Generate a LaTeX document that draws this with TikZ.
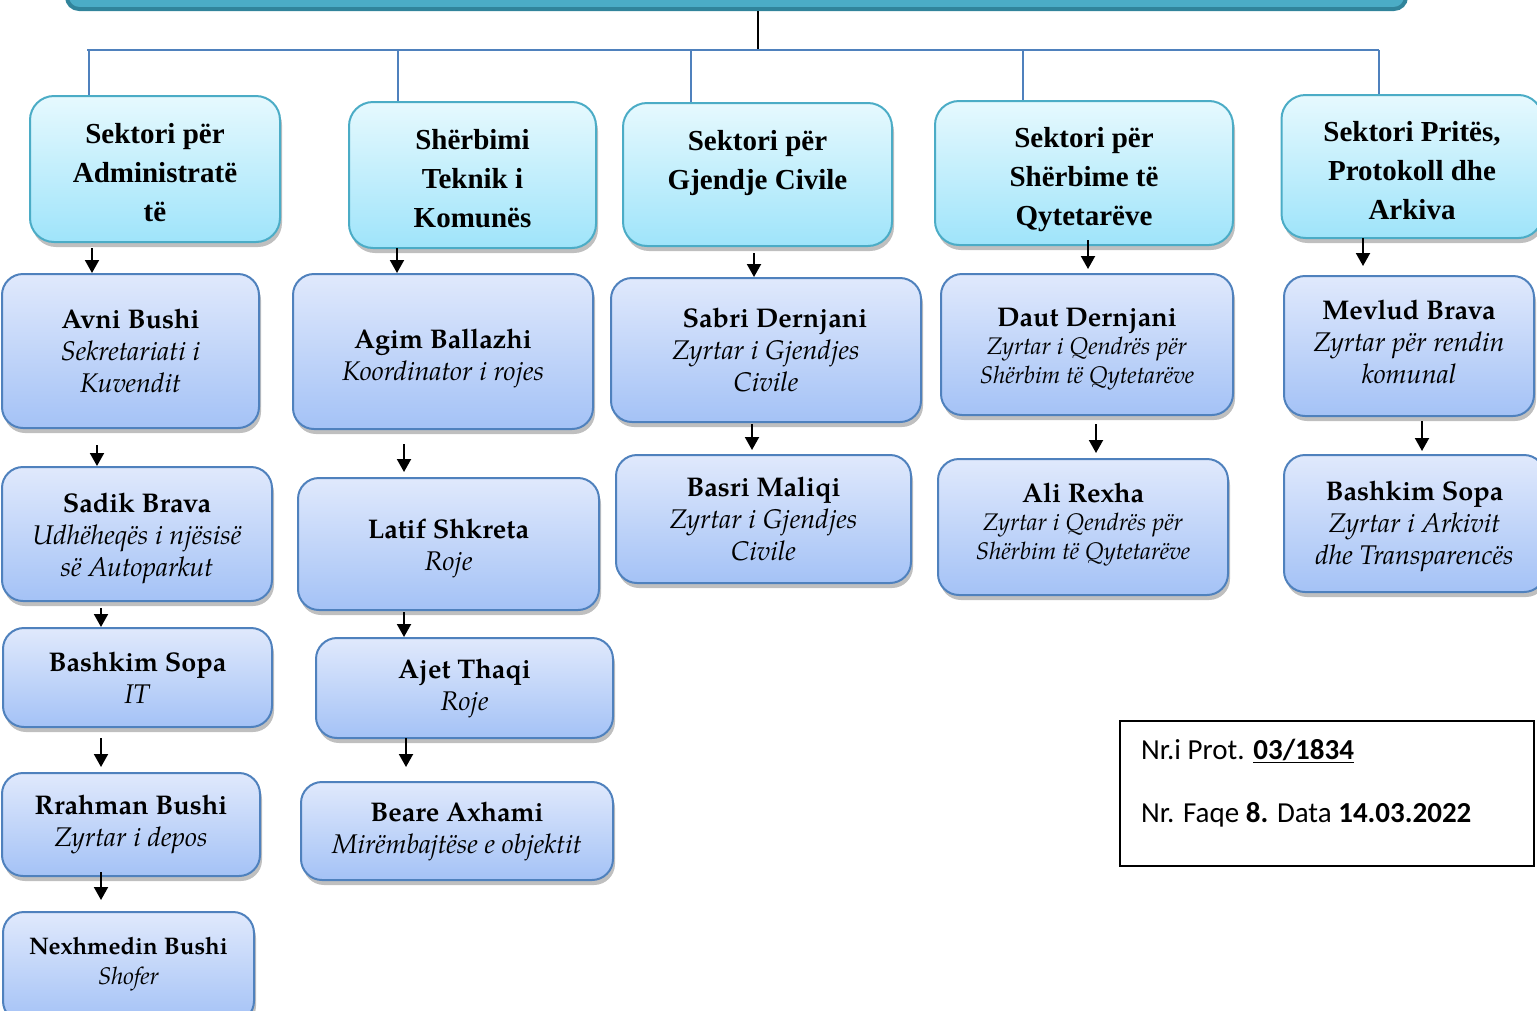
\documentclass[tikz,border=0pt]{standalone}
\usepackage{fontspec}
\setmainfont{Liberation Serif}
\newfontfamily\palfont{texgyrepagella}[Extension=.otf, UprightFont=*-regular, BoldFont=*-bold, ItalicFont=*-italic, BoldItalicFont=*-bolditalic]
\newfontfamily\calfont{Carlito}
\usetikzlibrary{arrows.meta,shadows,calc}
\definecolor{topfillA}{HTML}{E6F9FE}
\definecolor{topfillB}{HTML}{9FE4FA}
\definecolor{topdraw}{HTML}{4BACC6}
\definecolor{namefillA}{HTML}{E0E9FC}
\definecolor{namefillB}{HTML}{A4C2F6}
\definecolor{namedraw}{HTML}{4F81BD}
\definecolor{barfill}{HTML}{4BACC6}
\definecolor{bardraw}{HTML}{31849B}
\definecolor{linkblue}{HTML}{4F81BD}
\newcommand\upstrut[1]{\rule{0pt}{#1pt}}
\newcommand\dnstrut[1]{\rule[-#1pt]{0pt}{#1pt}}
\begin{document}
\begin{tikzpicture}[x=1pt,y=-1pt,
  shad/.style={drop shadow={shadow xshift=2pt,shadow yshift=-5pt,opacity=0.25,fill=black}},
  topbox/.style={shad,draw=topdraw,line width=2pt,rounded corners=24pt,top color=topfillA,bottom color=topfillB,align=center,inner sep=0pt,font=\bfseries\fontsize{29}{39}\selectfont},
  namebox/.style={shad,draw=namedraw,line width=2pt,rounded corners=21pt,top color=namefillA,bottom color=namefillB,align=center,inner sep=0pt,font=\palfont\fontsize{27}{32}\selectfont},
  smallbox/.style={namebox,font=\palfont\fontsize{24}{28.5}\selectfont},
  arr/.style={line width=2pt,black,-{Triangle[width=14pt,length=13pt]}},
  link/.style={line width=2pt,linkblue},
  trunk/.style={line width=2pt,black},
  notetext/.style={anchor=base west,inner sep=0pt,font=\calfont\fontsize{29}{34}\selectfont}
]
\useasboundingbox (0,0) rectangle (1537,1010);
\begin{scope}
\clip (0,0) rectangle (1537,1010);
% top bar
\draw[line width=4pt,draw=bardraw,fill=barfill,rounded corners=12pt] (67,-40) rectangle (1406,9);

% top level boxes
\node[topbox,minimum width=250pt,minimum height=146pt] (s1) at (155,169) {\upstrut{27}Sektori për\\Administratë\\të};
\node[topbox,minimum width=247pt,minimum height=146pt] (s2) at (472.5,175) {\upstrut{28}Shërbimi\\Teknik i\\Komunës};
\node[topbox,minimum width=269pt,minimum height=143pt] (s3) at (757.5,174.5) {\upstrut{30}Sektori për\\Gjendje Civile\\\mbox{}};
\node[topbox,minimum width=298pt,minimum height=144pt] (s4) at (1084,173) {\upstrut{33}Sektori për\\Shërbime të\\Qytetarëve};
\node[topbox,minimum width=261pt,minimum height=143pt] (s5) at (1412,166.5) {\upstrut{28}Sektori Pritës,\\Protokoll dhe\\Arkiva};

% column 1
\node[namebox,minimum width=257pt,minimum height=154pt] (n11) at (130.5,351) {\textbf{Avni Bushi}\\\textit{Sekretariati i}\\\textit{Kuvendit}};
\node[namebox,minimum width=270pt,minimum height=134pt] (n12) at (137,534) {\upstrut{29}\textbf{Sadik Brava}\\\textit{Udhëheqës i njësisë}\\\textit{së Autoparkut}};
\node[namebox,minimum width=269pt,minimum height=99pt] (n13) at (137.5,677.5) {\textbf{Bashkim Sopa}\\\textit{IT}};
\node[namebox,minimum width=258pt,minimum height=103pt] (n14) at (131,824.5) {\textbf{Rrahman Bushi}\\\textit{Zyrtar i depos}};
\node[namebox,minimum width=251pt,minimum height=110pt,font=\palfont\fontsize{24}{30}\selectfont] (n15) at (128.5,967) {\textbf{Nexhmedin Bushi}\\\textit{Shofer}\\[-18pt]\mbox{}};

% column 2
\node[namebox,minimum width=300pt,minimum height=155pt] (n21) at (443,351.5) {\upstrut{34}\textbf{Agim Ballazhi}\\\textit{Koordinator i rojes}};
\node[namebox,minimum width=301pt,minimum height=132pt] (n22) at (448.5,544) {\upstrut{29}\textbf{Latif Shkreta}\\\textit{Roje}};
\node[namebox,minimum width=297pt,minimum height=100pt] (n23) at (464.5,688) {\textbf{Ajet Thaqi}\\\textit{Roje}};
\node[namebox,minimum width=312pt,minimum height=98pt] (n24) at (457,831) {\textbf{Beare Axhami}\\\textit{Mirëmbajtëse e objektit}};

% column 3
\node[namebox,minimum width=310pt,minimum height=144pt] (n31) at (766,350) {\hspace*{18pt}\textbf{Sabri Dernjani}\\\textit{Zyrtar i Gjendjes}\\\textit{Civile}};
\node[namebox,minimum width=295pt,minimum height=128pt] (n32) at (763.5,519) {\textbf{Basri Maliqi}\\\textit{Zyrtar i Gjendjes}\\\textit{Civile}};

% column 4
\node[smallbox,minimum width=292pt,minimum height=141pt] (n41) at (1087,344.5) {{\fontsize{27}{32}\selectfont\upstrut{27}\textbf{Daut Dernjani}}\\\textit{Zyrtar i Qendrës për}\\\textit{Shërbim të Qytetarëve}};
\node[smallbox,minimum width=290pt,minimum height=136pt] (n42) at (1083,527) {{\fontsize{27}{32}\selectfont\textbf{Ali Rexha}}\\\textit{Zyrtar i Qendrës për}\\\textit{Shërbim të Qytetarëve}\dnstrut{12}};

% column 5
\node[namebox,minimum width=250pt,minimum height=140pt] (n51) at (1409,346) {\textbf{Mevlud Brava}\\\textit{Zyrtar për rendin}\\\textit{komunal}\dnstrut{8}};
\node[namebox,minimum width=261pt,minimum height=137pt] (n52) at (1414.5,523.5) {\upstrut{25}\textbf{Bashkim Sopa}\\\textit{Zyrtar i Arkivit}\\\textit{dhe Transparencës}};

% note box
\node[draw=black,line width=2pt,minimum width=414pt,minimum height=145pt,inner sep=0pt] (note) at (1327,793.5) {};
\node[notetext] (nt1) at (1141,759) {Nr.i Prot. \textbf{\underline{03/1834}}};
\node[notetext] (nt2) at (1141,822) {Nr. Faqe \textbf{8.} Data \textbf{14.03.2022}};

% top connectors
\coordinate (barb) at (758,11);
\coordinate (hl) at (87,50);
\coordinate (hr) at (1379,50);
\draw[trunk] (barb) -- (barb |- hl);
\draw[link] (hl) -- (hr);
\coordinate (h1) at (89,50);
\coordinate (h2) at (398,50);
\coordinate (h3) at (691,50);
\coordinate (h4) at (1023,50);
\coordinate (h5) at (1379,50);
\draw[link] (h1) -- (h1 |- s1.north);
\draw[link] (h2) -- (h2 |- s2.north);
\draw[link] (h3) -- (h3 |- s3.north);
\draw[link] (h4) -- (h4 |- s4.north);
\draw[link] (h5) -- (h5 |- s5.north);

% arrows column 1
\coordinate (a1) at (92,248);
\coordinate (a2) at (97,445);
\coordinate (a3) at (101,608);
\coordinate (a4) at (101,738);
\coordinate (a5) at (101,872);
\draw[arr] (a1) -- (a1 |- n11.north);
\draw[arr] (a2) -- (a2 |- n12.north);
\draw[arr] (a3) -- (a3 |- n13.north);
\draw[arr,shorten >=5pt] (a4) -- (a4 |- n14.north);
\draw[arr,shorten >=11pt] (a5) -- (a5 |- n15.north);
% arrows column 2
\coordinate (b1) at (397,248);
\coordinate (b2) at (404,444);
\coordinate (b3) at (404,612);
\coordinate (b4) at (406,738);
\draw[arr] (b1) -- (b1 |- n21.north);
\draw[arr,shorten >=5pt] (b2) -- (b2 |- n22.north);
\draw[arr] (b3) -- (b3 |- n23.north);
\draw[arr,shorten >=14pt] (b4) -- (b4 |- n24.north);
% arrows column 3
\coordinate (c1) at (754,253);
\coordinate (c2) at (752,424);
\draw[arr] (c1) -- (c1 |- n31.north);
\draw[arr,shorten >=4pt] (c2) -- (c2 |- n32.north);
% arrows column 4
\coordinate (d1) at (1088,240);
\coordinate (d2) at (1096,424);
\draw[arr,shorten >=4pt] (d1) -- (d1 |- n41.north);
\draw[arr,shorten >=5pt] (d2) -- (d2 |- n42.north);
% arrows column 5
\coordinate (e1) at (1363,238);
\coordinate (e2) at (1422,421);
\draw[arr,shorten >=9pt] (e1) -- (e1 |- n51.north);
\draw[arr,shorten >=3pt] (e2) -- (e2 |- n52.north);
\end{scope}
\end{tikzpicture}
\end{document}
